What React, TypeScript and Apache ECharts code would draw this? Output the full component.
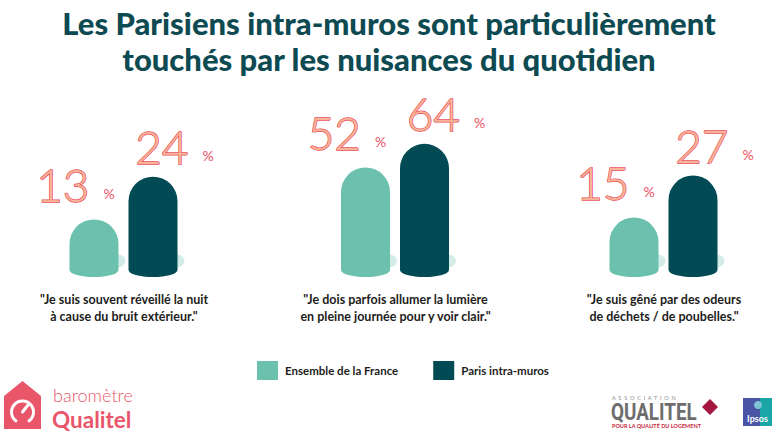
import React, { useEffect, useRef } from 'react';
import * as echarts from 'echarts';

// ---------- data ----------
const titleLines = [
  'Les Parisiens intra-muros sont particulièrement',
  'touchés par les nuisances du quotidien',
];
const questions = [
  '"Je suis souvent réveillé la nuit\nà cause du bruit extérieur."',
  '"Je dois parfois allumer la lumière\nen pleine journée pour y voir clair."',
  '"Je suis gêné par des odeurs\nde déchets / de poubelles."',
];
const seriesNames = ['Ensemble de la France', 'Paris intra-muros'];
const franceValues = [13, 52, 15];
const parisValues = [24, 64, 27];
const axisMaxes = [36, 71, 40];

// ---------- styles ----------
const COLORS = ['#6bc1ae', '#024a54'];
const SHADOW = '#d2ede8';
const RED = '#ea4f62';
const PEACH = '#f8b596';
const TITLE = '#0d4a52';
const FONT = 'Lato, "Noto Sans", sans-serif';
const groupCenters = [124, 395.5, 664];
const GRID_TOP = 130;
const GRID_BOTTOM = 163;

function makeRender(side: number) {
  return (params: any, api: any) => {
    const cat = api.value(0);
    const val = api.value(1);
    const top = api.coord([cat, val]);
    const base = api.coord([cat, 0]);
    const cx = top[0];
    const w = 49;
    const xl = side === 0 ? cx - 54.5 : cx + 4.5;
    const xr = xl + w;
    const r = w / 2;
    const yt = top[1];
    const yb = base[1];
    const ry = 7;
    const capY = Math.min(yt + r, yb);
    const d = `M${xl},${capY} A${r},${r} 0 0 1 ${xr},${capY} L${xr},${yb} A${r},${ry} 0 0 1 ${xl},${yb} Z`;
    const scx = xr - 8;
    const scy = yb - 9;
    const srx = 15;
    const sry = 8;
    const sd = `M${scx - srx},${scy} A${srx},${sry} 0 1 0 ${scx + srx},${scy} A${srx},${sry} 0 1 0 ${scx - srx},${scy} Z`;
    const numRight = side === 0 ? xl + 20 : xr + 11;
    const numY = side === 0 ? yt - 12 : yt - 7;
    return {
      type: 'group',
      children: [
        { type: 'path', shape: { pathData: sd }, style: { fill: SHADOW } },
        { type: 'path', shape: { pathData: d }, style: { fill: COLORS[side] } },
        {
          type: 'text',
          x: numRight,
          y: numY,
          style: {
            text: String(val),
            fill: PEACH,
            stroke: RED,
            lineWidth: 1.4,
            fontSize: 46,
            fontWeight: 300,
            fontFamily: FONT,
            align: 'right',
            textAlign: 'right',
            verticalAlign: 'bottom',
            textVerticalAlign: 'bottom',
          },
        },
        {
          type: 'text',
          x: numRight + 14,
          y: numY - 7,
          style: {
            text: '%',
            fill: RED,
            fontSize: 14,
            fontWeight: 400,
            fontFamily: FONT,
            align: 'left',
            textAlign: 'left',
            verticalAlign: 'bottom',
            textVerticalAlign: 'bottom',
          },
        },
      ],
    };
  };
}

const App: React.FC = () => {
  const ref = useRef<HTMLDivElement>(null);
  useEffect(() => {
    document.body.style.margin = '0';
    if (!ref.current) return;
    const chart = echarts.init(ref.current, undefined, { renderer: 'svg' });

    const grids = groupCenters.map((c) => ({
      left: c - 60,
      width: 120,
      top: GRID_TOP,
      bottom: GRID_BOTTOM,
    }));
    const xAxes = questions.map((q, i) => ({
      type: 'category',
      gridIndex: i,
      data: [q],
      axisLine: { show: false },
      axisTick: { show: false },
      axisLabel: {
        interval: 0,
        margin: 21,
        fontSize: 12.5,
        fontWeight: 'bold',
        lineHeight: 17,
        color: '#1d1d1b',
        fontFamily: FONT,
      },
    }));
    const yAxes = axisMaxes.map((m, i) => ({
      type: 'value',
      gridIndex: i,
      min: 0,
      max: m,
      show: false,
      splitLine: { show: false },
    }));
    const series: any[] = [];
    questions.forEach((_, i) => {
      series.push({
        type: 'custom',
        name: seriesNames[0],
        xAxisIndex: i,
        yAxisIndex: i,
        itemStyle: { color: COLORS[0] },
        renderItem: makeRender(0),
        data: [[0, franceValues[i]]],
      });
      series.push({
        type: 'custom',
        name: seriesNames[1],
        xAxisIndex: i,
        yAxisIndex: i,
        itemStyle: { color: COLORS[1] },
        renderItem: makeRender(1),
        data: [[0, parisValues[i]]],
      });
    });

    const textStyle = (o: any) => ({ ...o, align: o.textAlign, verticalAlign: o.textVerticalAlign });

    chart.setOption({
      animation: false,
      backgroundColor: '#ffffff',
      title: {
        text: titleLines.join('\n'),
        left: 'center',
        top: 0,
        textStyle: {
          fontSize: 31,
          fontWeight: 900,
          lineHeight: 36,
          color: TITLE,
          fontFamily: FONT,
        },
      },
      legend: {
        data: seriesNames,
        left: 252,
        top: 356,
        icon: 'rect',
        itemWidth: 21,
        itemHeight: 19,
        itemGap: 35,
        selectedMode: false,
        textStyle: {
          fontSize: 11.5,
          fontWeight: 'bold',
          color: '#1d1d1b',
          fontFamily: FONT,
          padding: [0, 0, 0, 2],
        },
      },
      grid: grids,
      xAxis: xAxes,
      yAxis: yAxes,
      series,
      graphic: [
        // baromètre Qualitel logo
        {
          type: 'polygon',
          shape: { points: [[4, 396], [22.5, 381], [41, 396], [41, 429], [4, 429]] },
          style: { fill: '#e9566a' },
        },
        {
          type: 'arc',
          shape: { cx: 22.5, cy: 412, r: 11, startAngle: (2 * Math.PI) / 3, endAngle: Math.PI / 3 + 2 * Math.PI, clockwise: true },
          style: { stroke: '#ffffff', lineWidth: 3, fill: 'none' },
        },
        {
          type: 'line',
          shape: { x1: 22.5, y1: 412, x2: 28, y2: 405 },
          style: { stroke: '#ffffff', lineWidth: 3, lineCap: 'round' },
        },
        {
          type: 'text',
          x: 53,
          y: 404,
          style: textStyle({ text: 'baromètre', fill: '#e9566a', fontSize: 18, fontWeight: 300, fontFamily: FONT, textAlign: 'left', textVerticalAlign: 'bottom' }),
        },
        {
          type: 'text',
          x: 52,
          y: 431,
          style: textStyle({ text: 'Qualitel', fill: '#e9566a', fontSize: 22.5, fontWeight: 'bold', fontFamily: FONT, textAlign: 'left', textVerticalAlign: 'bottom' }),
        },
        // Association Qualitel logo
        {
          type: 'text',
          x: 612,
          y: 401,
          style: textStyle({ text: 'A  S  S  O  C  I  A  T  I  O  N', fill: '#8c8c8c', fontSize: 5.5, fontFamily: FONT, textAlign: 'left', textVerticalAlign: 'bottom' }),
        },
        {
          type: 'text',
          x: 611,
          y: 423,
          scaleX: 0.82,
          style: textStyle({ text: 'QUALITEL', fill: '#6d6d6d', fontSize: 23, fontWeight: 'bold', fontFamily: 'Roboto, sans-serif', textAlign: 'left', textVerticalAlign: 'bottom' }),
        },
        {
          type: 'polygon',
          shape: { points: [[710, 399], [718, 407], [710, 415], [702, 407]] },
          style: { fill: '#a5173f' },
        },
        {
          type: 'text',
          x: 612,
          y: 429,
          style: textStyle({ text: 'POUR LA QUALITÉ DU LOGEMENT', fill: '#c8283d', fontSize: 5.5, fontWeight: 'bold', fontFamily: FONT, textAlign: 'left', textVerticalAlign: 'bottom' }),
        },
        // Ipsos logo
        { type: 'rect', shape: { x: 743, y: 398, width: 29, height: 28 }, style: { fill: '#1aa6a6' } },
        { type: 'rect', shape: { x: 743, y: 398, width: 17, height: 28 }, style: { fill: '#4b55a6' } },
        { type: 'circle', shape: { cx: 758, cy: 405, r: 4 }, style: { fill: '#7fc4d6' } },
        {
          type: 'text',
          x: 757.5,
          y: 418,
          style: textStyle({ text: 'Ipsos', fill: '#ffffff', fontSize: 9, fontWeight: 'bold', fontFamily: FONT, textAlign: 'center', textVerticalAlign: 'middle' }),
        },
      ],
    });
    return () => chart.dispose();
  }, []);
  return <div ref={ref} style={{ width: 778, height: 433 }} />;
};

export default App;
